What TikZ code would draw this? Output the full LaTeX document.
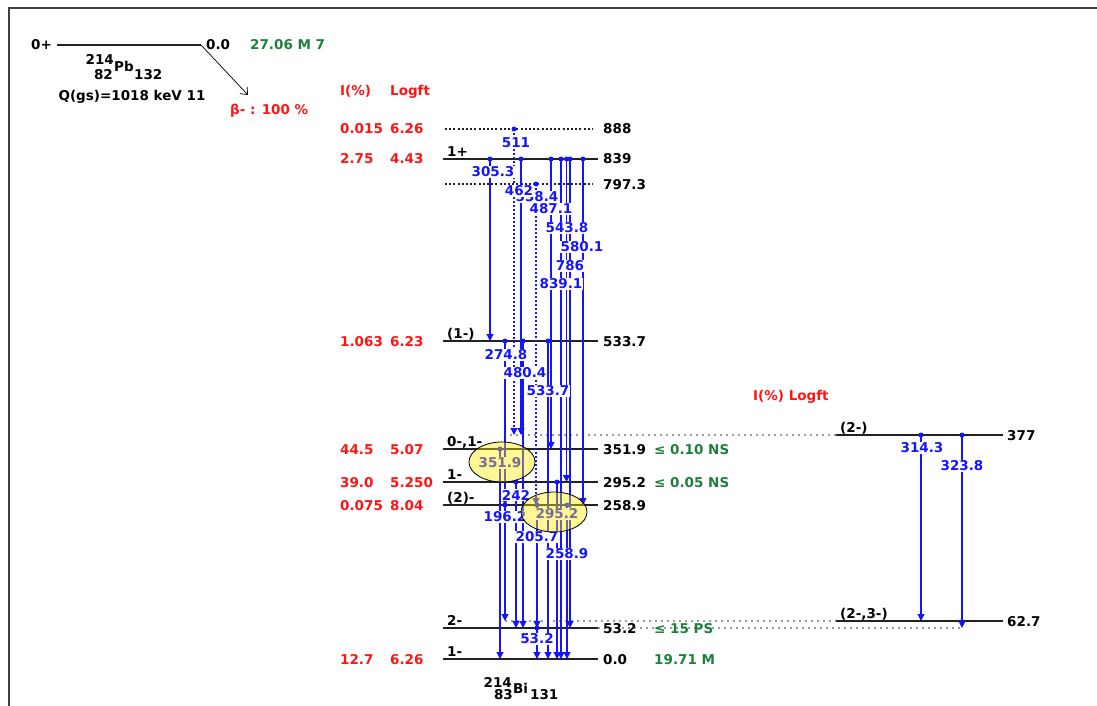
\documentclass[tikz,border=0pt]{standalone}
\usepackage{fontspec}
\setmainfont{DejaVu Sans}
\usetikzlibrary{arrows.meta,positioning,shapes.geometric}
\definecolor{gblue}{HTML}{1414FF}
\definecolor{ired}{HTML}{FF1414}
\definecolor{tgreen}{HTML}{1E7F3C}
\definecolor{lvlink}{HTML}{222222}
\definecolor{extgray}{HTML}{9A9A9A}
\newcommand{\lbf}{\fontsize{13.5}{16}\selectfont\bfseries}
\tikzset{
  lvl/.style={draw=lvlink,line width=1.4pt},
  lvldot/.style={draw=lvlink,line width=2pt,dash pattern=on 2pt off 2.2pt},
  ext/.style={draw=extgray,line width=1.2pt,dash pattern=on 1.5pt off 4.5pt},
  gam/.style={draw=gblue,line width=1.1pt,-{Triangle[length=7pt,width=7pt]}},
  gamdot/.style={gam,dash pattern=on 2pt off 2pt},
  gdot/.style={fill=gblue},
  txt/.style={font=\lbf,inner sep=0pt},
  elab/.style={txt,anchor=base west},
  jlab/.style={txt,anchor=base west},
  ilab/.style={txt,text=ired,anchor=base west},
  tlab/.style={txt,text=tgreen,anchor=base west},
  glab/.style={txt,text=gblue,fill=white,inner sep=0.6pt},
  spot/.style={draw=black,line width=0.8pt,ellipse,fill=yellow!92!orange,fill opacity=.42,
    minimum width=66pt,minimum height=40pt},
}
\begin{document}
\begin{tikzpicture}[x=1pt,y=-1pt]
  \useasboundingbox (0,0) rectangle (1097,706);
  \draw[line width=1.5pt,draw=black!75] (9,706) -- (9,8) -- (1097,8);
  % parent
  \draw[lvl] (57,45) coordinate (p0) -- (201,45) coordinate (p1);
  \node[jlab] (pj) at (31,50) {0+}; \node[elab] (pe) at (206,50) {0.0};
  \node[tlab] (pt) at (250,50) {27.06 M 7};
  \node[txt,anchor=base east] (pba) at (114,65) {214}; \node[txt,anchor=base east] (pbz) at (113,80) {82};
  \node[txt,anchor=base west] (pbsym) at (114,72) {Pb}; \node[txt,anchor=base west] (pbn) at (134,80) {132};
  \node[txt,anchor=base] (qgs) at (132,101) {Q(gs)=1018 keV 11};
  \coordinate (bt) at (248,95);
  \draw[-{Straight Barb[length=6pt,width=10pt]},line width=0.7pt] (p1) -- (bt);
  \node[ilab] (beta) at (230,115) {β- : 100 \%};
  \node[ilab] (ihead) at (340,96) {I(\%)}; \node[ilab] (lhead) at (390,96) {Logft};
  \node[ilab] (rhead) at (753,400) {I(\%) Logft};
  % levels
  \coordinate (l888) at (445,129); \coordinate (l839) at (443,159); \coordinate (l797) at (445,184);
  \coordinate (l533) at (443,341); \coordinate (l351) at (443,449); \coordinate (l295) at (443,482);
  \coordinate (l258) at (443,505); \coordinate (l53) at (443,628); \coordinate (l0) at (443,659);
  \coordinate (l377) at (836,435); \coordinate (l62) at (836,621);
  \draw[ext] (510,0 |- l377) -- (l377); \draw[ext] (505,0 |- l62) -- (l62); \draw[ext] (598,0 |- l53) -- (962,0 |- l53);
  \draw[lvldot] (l888) -- ++(148,0); \draw[lvldot] (l797) -- ++(148,0);
  \draw[lvl] (l839) -- ++(155,0); \draw[lvl] (l533) -- ++(155,0); \draw[lvl] (l351) -- ++(155,0);
  \draw[lvl] (l295) -- ++(155,0); \draw[lvl] (l258) -- ++(155,0); \draw[lvl] (l53) -- ++(155,0);
  \draw[lvl] (l0) -- ++(155,0); \draw[lvl] (l377) -- ++(167,0); \draw[lvl] (l62) -- ++(167,0);
  \node[elab] (e888) at (603,134) {888}; \node[elab] (e839) at (603,164) {839};
  \node[elab] (e797) at (603,189) {797.3}; \node[elab] (e533) at (603,346) {533.7};
  \node[elab] (e351) at (603,454) {351.9}; \node[elab] (e295) at (603,487) {295.2};
  \node[elab] (e258) at (603,510) {258.9}; \node[elab] (e53) at (603,633) {53.2};
  \node[elab] (e0) at (603,664) {0.0}; \node[elab] (e377) at (1007,440) {377};
  \node[elab] (e62) at (1007,626) {62.7};
  \node[jlab] (j839) at (447,156) {1+}; \node[jlab] (j533) at (447,338) {(1-)};
  \node[jlab] (j351) at (447,446) {0-,1-}; \node[jlab] (j295) at (447,479) {1-};
  \node[jlab] (j258) at (447,502) {(2)-}; \node[jlab] (j53) at (447,625) {2-};
  \node[jlab] (j0) at (447,656) {1-}; \node[jlab] (j377) at (840,432) {(2-)};
  \node[jlab] (j62) at (840,618) {(2-,3-)};
  \node[ilab] (i888) at (340,134) {0.015}; \node[ilab] (f888) at (390,134) {6.26};
  \node[ilab] (i839) at (340,164) {2.75}; \node[ilab] (f839) at (390,164) {4.43};
  \node[ilab] (i533) at (340,346) {1.063}; \node[ilab] (f533) at (390,346) {6.23};
  \node[ilab] (i351) at (340,454) {44.5}; \node[ilab] (f351) at (390,454) {5.07};
  \node[ilab] (i295) at (340,487) {39.0}; \node[ilab] (f295) at (390,487) {5.250};
  \node[ilab] (i258) at (340,510) {0.075}; \node[ilab] (f258) at (390,510) {8.04};
  \node[ilab] (i0) at (340,664) {12.7}; \node[ilab] (f0) at (390,664) {6.26};
  \node[tlab] (t351) at (654,454) {≤ 0.10 NS}; \node[tlab] (t295) at (654,487) {≤ 0.05 NS};
  \node[tlab] (t53) at (654,633) {≤ 15 PS}; \node[tlab] (t0) at (654,664) {19.71 M};
  % gammas
  \draw[gamdot] (514,0 |- l888) -- (514,0 |- l377); \draw[gam] (490,0 |- l839) -- (490,0 |- l533);
  \draw[gam] (521,0 |- l839) -- (521,0 |- l377); \draw[gamdot] (536,0 |- l797) -- (536,0 |- l258);
  \draw[gam] (551,0 |- l839) -- (551,0 |- l351); \draw[gam] (566.5,0 |- l839) -- (566.5,0 |- l295);
  \draw[gam] (583,0 |- l839) -- (583,0 |- l258); \draw[gam] (570,0 |- l839) -- (570,0 |- l53);
  \draw[gam] (561,0 |- l839) -- (561,0 |- l0); \draw[gam] (505,0 |- l533) -- (505,0 |- l258);
  \draw[gam] (523,0 |- l533) -- (523,0 |- l53); \draw[gam] (548,0 |- l533) -- (548,0 |- l0);
  \draw[gam] (500,0 |- l351) -- (500,0 |- l0); \draw[gam] (516,0 |- l295) -- (516,0 |- l53);
  \draw[gam] (557,0 |- l295) -- (557,0 |- l0); \draw[gam] (505,0 |- l258) -- (505,0 |- l62);
  \draw[gam] (537,0 |- l258) -- (537,0 |- l53); \draw[gam] (567,0 |- l258) -- (567,0 |- l0);
  \draw[gam] (537,0 |- l53) -- (537,0 |- l0);
  \draw[gam] (921,0 |- l377) -- (921,0 |- l62); \draw[gam] (962,0 |- l377) -- (962,0 |- l53);
  \fill[gdot] (514,0 |- l888) circle (2.5pt); \fill[gdot] (490,0 |- l839) circle (2.5pt);
  \fill[gdot] (521,0 |- l839) circle (2.5pt); \fill[gdot] (536,0 |- l797) circle (2.5pt);
  \fill[gdot] (551,0 |- l839) circle (2.5pt); \fill[gdot] (566.5,0 |- l839) circle (2.5pt);
  \fill[gdot] (583,0 |- l839) circle (2.5pt); \fill[gdot] (570,0 |- l839) circle (2.5pt);
  \fill[gdot] (561,0 |- l839) circle (2.5pt); \fill[gdot] (505,0 |- l533) circle (2.5pt);
  \fill[gdot] (523,0 |- l533) circle (2.5pt); \fill[gdot] (548,0 |- l533) circle (2.5pt);
  \fill[gdot] (500,0 |- l351) circle (2.5pt); \fill[gdot] (516,0 |- l295) circle (2.5pt);
  \fill[gdot] (557,0 |- l295) circle (2.5pt); \fill[gdot] (505,0 |- l258) circle (2.5pt);
  \fill[gdot] (537,0 |- l258) circle (2.5pt); \fill[gdot] (567,0 |- l258) circle (2.5pt);
  \fill[gdot] (537,0 |- l53) circle (2.5pt);
  \fill[gdot] (921,0 |- l377) circle (2.5pt); \fill[gdot] (962,0 |- l377) circle (2.5pt);
  \node[glab] (g511) at (516,143) {511}; \node[glab] (g305) at (493,172) {305.3};
  \node[glab] (g538) at (537,197) {538.4}; \node[glab] (g462) at (519,191) {462};
  \node[glab] (g487) at (551,209) {487.1}; \node[glab] (g543) at (567,228) {543.8};
  \node[glab] (g580) at (582,247) {580.1}; \node[glab] (g786) at (570,266) {786};
  \node[glab] (g839) at (561,284) {839.1}; \node[glab] (g274) at (506,355) {274.8};
  \node[glab] (g480) at (525,373) {480.4}; \node[glab] (g533) at (548,391) {533.7};
  \node[glab] (g351) at (500,463) {351.9}; \node[glab] (g242) at (516,495) {242};
  \node[glab] (g196) at (505,517) {196.2}; \node[glab] (g295) at (557,514) {295.2};
  \node[glab] (g205) at (537,537) {205.7}; \node[glab] (g258) at (567,554) {258.9};
  \node[glab] (g53) at (537,639) {53.2};
  \node[glab] (g314) at (922,448) {314.3}; \node[glab] (g323) at (962,466) {323.8};
  \node[spot] (s351) at (502,462) {}; \node[spot] (s295) at (554,512) {};
  % daughter
  \node[txt,anchor=base east] (bia) at (512,687) {214}; \node[txt,anchor=base east] (biz) at (513,699) {83};
  \node[txt,anchor=base west] (bisym) at (513,693) {Bi}; \node[txt,anchor=base west] (bin) at (530,699) {131};
\end{tikzpicture}
\end{document}
